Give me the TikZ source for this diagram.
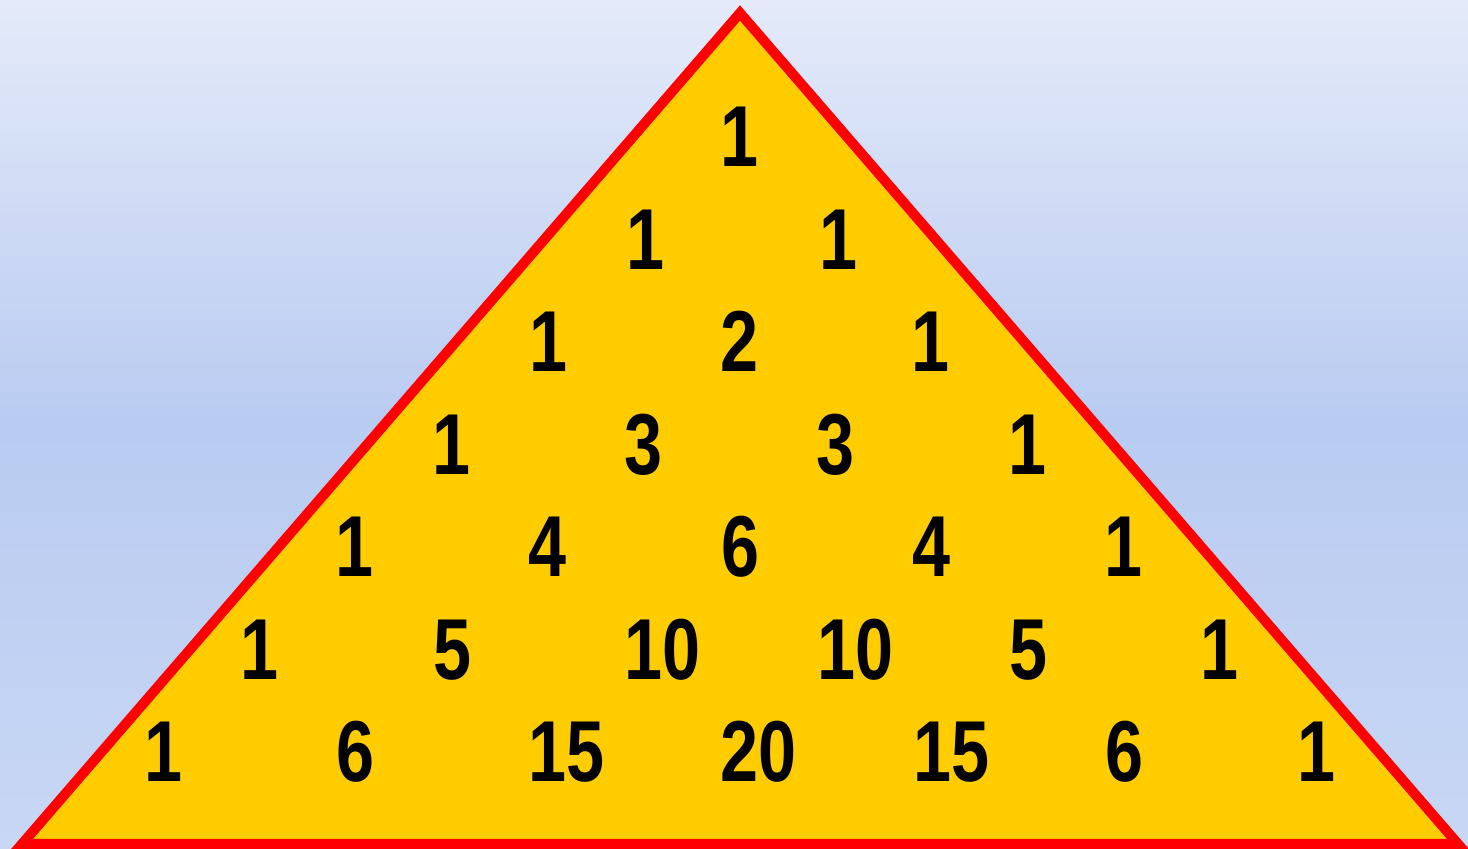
\documentclass[tikz,border=0pt]{standalone}
\usepackage{fontspec}
\setmainfont{Liberation Sans}
\definecolor{bgtop}{RGB}{228,234,249}
\definecolor{bgmid}{RGB}{185,203,241}
\definecolor{bgbot}{RGB}{200,215,244}
\definecolor{pyrfill}{RGB}{255,204,0}
\definecolor{pyredge}{RGB}{255,0,0}
\newcommand\pnum[1]{\scalebox{0.79}[1]{#1}}
\tikzset{
  num/.style={inner sep=0pt, anchor=base, text=black,
    font=\fontsize{24.6}{30}\selectfont\bfseries},
  pyramid/.style={fill=pyrfill, draw=pyredge, line width=2.85pt, line join=miter}
}
\begin{document}
\begin{tikzpicture}[x=0.01cm, y=-0.01cm]
\useasboundingbox (0,0) rectangle (1468,849);
\shade[top color=bgtop, bottom color=bgbot, middle color=bgmid] (0,0) rectangle (1468,849);
\coordinate (apex) at (740,13);
\coordinate (bl) at (22,844);
\coordinate (br) at (1458,844);
\draw[pyramid] (apex) -- (br) -- (bl) -- cycle;
% row 1
\node[num] (r1a) at (740,167) {\pnum{1}};
% row 2
\node[num] (r2a) at (646,269.5) {\pnum{1}};
\node[num] (r2b) at (839,269.5) {\pnum{1}};
% row 3
\node[num] (r3a) at (549,372) {\pnum{1}};
\node[num] (r3b) at (740,372) {\pnum{2}};
\node[num] (r3c) at (931,372) {\pnum{1}};
% row 4
\node[num] (r4a) at (452,474.5) {\pnum{1}};
\node[num] (r4b) at (644,474.5) {\pnum{3}};
\node[num] (r4c) at (836,474.5) {\pnum{3}};
\node[num] (r4d) at (1028,474.5) {\pnum{1}};
% row 5
\node[num] (r5a) at (355,577) {\pnum{1}};
\node[num] (r5b) at (547.5,577) {\pnum{4}};
\node[num] (r5c) at (740.5,577) {\pnum{6}};
\node[num] (r5d) at (931.5,577) {\pnum{4}};
\node[num] (r5e) at (1124,577) {\pnum{1}};
% row 6
\node[num] (r6a) at (260,679.5) {\pnum{1}};
\node[num] (r6b) at (453,679.5) {\pnum{5}};
\node[num] (r6c) at (663,679.5) {\pnum{10}};
\node[num] (r6d) at (855.5,679.5) {\pnum{10}};
\node[num] (r6e) at (1028.5,679.5) {\pnum{5}};
\node[num] (r6f) at (1220,679.5) {\pnum{1}};
% row 7
\node[num] (r7a) at (164,782) {\pnum{1}};
\node[num] (r7b) at (355.5,782) {\pnum{6}};
\node[num] (r7c) at (566.5,782) {\pnum{15}};
\node[num] (r7d) at (759,782) {\pnum{20}};
\node[num] (r7e) at (951.5,782) {\pnum{15}};
\node[num] (r7f) at (1125,782) {\pnum{6}};
\node[num] (r7g) at (1316.5,782) {\pnum{1}};
\end{tikzpicture}
\end{document}
